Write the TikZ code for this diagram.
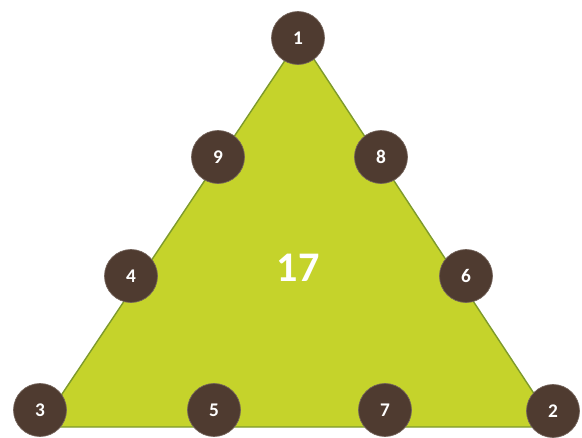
\documentclass[tikz,border=0pt]{standalone}
\usepackage{fontspec}
\setsansfont{Carlito}
\usepackage{xcolor}
\usepackage{tikz}
\usetikzlibrary{positioning}
\definecolor{limegreen}{HTML}{C5D32B}
\definecolor{olivedge}{HTML}{7E9A2C}
\definecolor{darkbrown}{HTML}{4F3B30}

\begin{document}
\begin{tikzpicture}[
  x=0.02cm, y=0.02cm,
  spot/.style={
    circle, fill=darkbrown, draw=darkbrown!80!white, line width=0.4pt,
    minimum size=1.06cm, inner sep=0pt,
    font=\sffamily\bfseries\fontsize{11}{13}\selectfont, text=white,
  },
  total/.style={font=\sffamily\bfseries\fontsize{24}{28}\selectfont, text=white},
]
\useasboundingbox (0,0) rectangle (582,437);

% Triangle corners
\coordinate (apex) at (300,399);
\coordinate (left) at (40,10);
\coordinate (right) at (556,10);
\fill[limegreen, draw=olivedge, line width=0.8pt] (apex) -- (left) -- (right) -- cycle;

% Sum in the middle
\node[total] (sum) at (298,169) {17};

% Numbers along the sides
\node[spot] (n1) at (298,399) {1};
\node[spot] (n9) at (218,280) {9};
\node[spot] (n8) at (381,280) {8};
\node[spot] (n4) at (131,161) {4};
\node[spot] (n6) at (466,161) {6};
\node[spot] (n3) at (40,27) {3};
\node[spot] (n5) at (214,27) {5};
\node[spot] (n7) at (385,27) {7};
\node[spot] (n2) at (553,26) {2};

\end{tikzpicture}
\end{document}
